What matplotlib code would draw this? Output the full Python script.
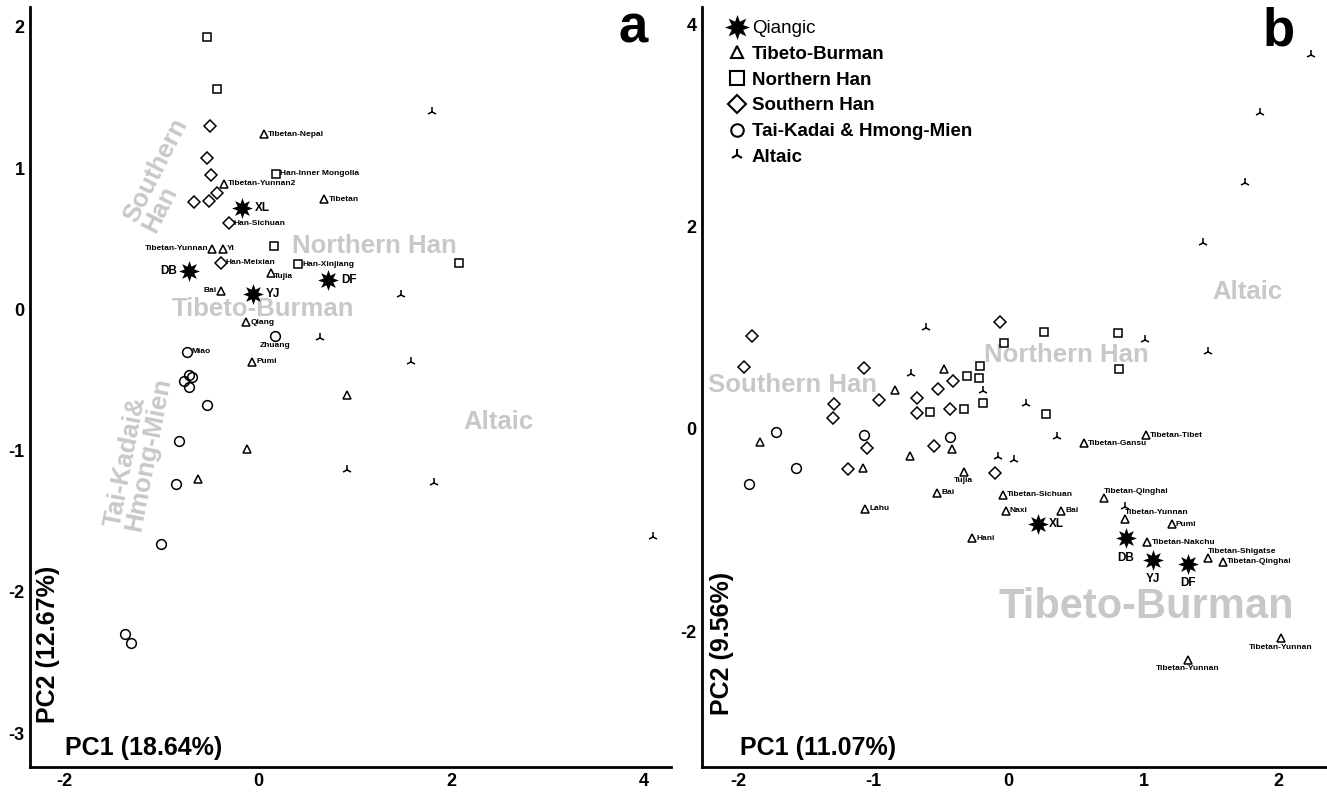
import matplotlib
matplotlib.use("Agg")
import matplotlib.pyplot as plt
from matplotlib.lines import Line2D

plt.rcParams['font.family'] = ['Liberation Sans', 'DejaVu Sans']
plt.rcParams['font.weight'] = 'bold'
plt.rcParams['axes.unicode_minus'] = False

# ---- panel a data ----
xa_nh = [-0.53, -0.42, 0.19, 0.17, 0.42, 2.08]
ya_nh = [1.93, 1.56, 0.96, 0.45, 0.32, 0.33]
na_nh = ["", "", "Han-Inner Mongolia", "", "Han-Xinjiang", ""]

xa_sh = [-0.50, -0.53, -0.49, -0.42, -0.51, -0.66, -0.30, -0.38]
ya_sh = [1.30, 1.07, 0.95, 0.82, 0.77, 0.76, 0.61, 0.33]
na_sh = ["", "", "", "", "", "", "Han-Sichuan", "Han-Meixian"]

xa_tb = [0.06, -0.35, 0.69, -0.47, -0.36, 0.14, -0.38, -0.12, -0.06, 0.92, -0.11, -0.62]
ya_tb = [1.24, 0.89, 0.78, 0.43, 0.43, 0.26, 0.13, -0.09, -0.37, -0.61, -0.99, -1.20]
na_tb = ["Tibetan-Nepal", "Tibetan-Yunnan2", "Tibetan", "Tibetan-Yunnan", "Yi", "Tujia",
         "Bai", "Qiang", "Pumi", "", "", ""]

xa_q = [-0.16, -0.71, -0.05, 0.73]
ya_q = [0.72, 0.27, 0.11, 0.21]
na_q = ["XL", "DB", "YJ", "DF"]

xa_tk = [0.18, -0.73, -0.715, -0.684, -0.767, -0.715, -0.53, -0.82, -0.85, -1.00, -1.38, -1.31]
ya_tk = [-0.19, -0.30, -0.467, -0.481, -0.510, -0.552, -0.68, -0.93, -1.24, -1.66, -2.30, -2.36]
na_tk = ["Zhuang", "Miao", "", "", "", "", "", "", "", "", "", ""]

xa_al = [1.80, 1.48, 0.64, 1.59, 0.92, 1.82, 4.09]
ya_al = [1.40, 0.10, -0.20, -0.37, -1.14, -1.23, -1.61]

# ---- panel b data ----
xb_sh = [-1.90, -1.96, -1.07, -1.29, -1.30, -0.96, -0.68, -0.68, -0.52, -0.41, -0.43, -0.06,
         -1.05, -1.19, -0.55, -0.10]
yb_sh = [0.92, 0.61, 0.60, 0.25, 0.11, 0.29, 0.31, 0.16, 0.40, 0.47, 0.20, 1.06,
         -0.19, -0.40, -0.17, -0.43]

xb_nh = [0.26, -0.03, -0.21, -0.31, -0.22, -0.19, -0.58, -0.33, 0.28, 0.81, 0.82]
yb_nh = [0.96, 0.85, 0.62, 0.52, 0.50, 0.26, 0.17, 0.20, 0.15, 0.95, 0.59]

xb_al = [-0.61, -0.72, -0.19, 0.13, 0.36, -0.08, 0.04, 2.24, 1.86, 1.75, 1.44, 1.01, 1.48, 0.86]
yb_al = [1.00, 0.54, 0.38, 0.25, -0.08, -0.28, -0.31, 3.70, 3.12, 2.43, 1.84, 0.88, 0.76, -0.77]

xb_tk = [-1.72, -1.57, -1.92, -1.07, -0.43]
yb_tk = [-0.03, -0.39, -0.54, -0.06, -0.08]

xb_tb = [-1.84, -0.84, -0.48, -0.42, -0.73, -1.08, -0.33, -0.53, -1.06, -0.27, -0.04, -0.02,
         0.39, 0.56, 1.02, 0.71, 0.86, 1.21, 1.03, 1.48, 1.59, 2.02, 1.33]
yb_tb = [-0.13, 0.39, 0.59, -0.20, -0.27, -0.39, -0.42, -0.63, -0.79, -1.08, -0.65, -0.81,
         -0.81, -0.14, -0.06, -0.68, -0.89, -0.94, -1.12, -1.27, -1.31, -2.07, -2.28]
nb_tb = ["", "", "", "", "", "", "Tujia", "Bai", "Lahu", "Hani", "Tibetan-Sichuan", "Naxi",
         "Bai", "Tibetan-Gansu", "Tibetan-Tibet", "Tibetan-Qinghai", "Tibetan-Yunnan", "Pumi",
         "Tibetan-Nakchu", "Tibetan-Shigatse", "Tibetan-Qinghai", "Tibetan-Yunnan", "Tibetan-Yunnan"]

xb_q = [0.22, 0.87, 1.07, 1.33]
yb_q = [-0.94, -1.08, -1.29, -1.33]
nb_q = ["XL", "DB", "YJ", "DF"]

group_names = ["Qiangic", "Tibeto-Burman", "Northern Han", "Southern Han",
               "Tai-Kadai & Hmong-Mien", "Altaic"]

# label placement codes (r=right, l=left, b=below, ar=above right)
pa_nh = ["r"] * 6
pa_sh = ["r"] * 8
pa_tb = ["r", "r", "r", "l", "r", "rb", "l", "r", "r", "r", "r", "r"]
pa_q = ["r", "l", "r", "r"]
pa_tk = ["b", "r"] + ["r"] * 10
pb_tb = ["r"] * 6 + ["b", "r", "r", "r", "r", "r", "r", "r", "r", "ar", "ar", "r", "r", "ar", "r", "b", "b"]
pb_q = ["r", "b", "b", "b"]

GREY = '#c8c8c8'

fig = plt.figure(figsize=(13.27, 7.93), dpi=100)
ax1 = fig.add_axes([30 / 1327, 26 / 793, 641 / 1327, 760 / 793])
ax2 = fig.add_axes([702 / 1327, 26 / 793, 625 / 1327, 760 / 793])

offs = {"r": ((3, 0), "left", "center"), "l": ((-3, 0), "right", "center"),
        "b": ((0, -4), "center", "top"), "ar": ((0, 2), "left", "bottom"),
        "rb": ((2, -3), "left", "center")}


def draw(ax, x, y, marker, ms, names=None, place=None, fs=6, gap=1.0, filled=False):
    if filled:
        ax.plot(x, y, ls='none', marker=marker, ms=ms, color='black', mew=0, zorder=3)
    else:
        ax.plot(x, y, ls='none', marker=marker, ms=ms, mfc='none', mec='black',
                mew=1.1, zorder=3)
    if names is None:
        return
    for xi, yi, n, p in zip(x, y, names, place):
        if not n:
            continue
        (dx, dy), ha, va = offs[p]
        ax.annotate(n, (xi, yi), xytext=(dx * gap, dy * gap), textcoords='offset points',
                    ha=ha, va=va, fontsize=fs, fontweight='bold', zorder=4)


for ax in (ax1, ax2):
    for s in ('top', 'right'):
        ax.spines[s].set_visible(False)
    for s in ('left', 'bottom'):
        ax.spines[s].set_linewidth(2)
    ax.tick_params(length=0, pad=4, labelsize=13)
    ax.set_facecolor('white')

# panel a
draw(ax1, xa_nh, ya_nh, 's', 6, na_nh, pa_nh)
draw(ax1, xa_sh, ya_sh, 'D', 6, na_sh, pa_sh)
draw(ax1, xa_tb, ya_tb, '^', 5.5, na_tb, pa_tb)
draw(ax1, xa_tk, ya_tk, 'o', 7, na_tk, pa_tk)
draw(ax1, xa_al, ya_al, '2', 7)
draw(ax1, xa_q, ya_q, (8, 1, 0), 15, na_q, pa_q, fs=8.5, gap=3.0, filled=True)

ax1.set_xlim(-2.36, 4.28)
ax1.set_ylim(-3.24, 2.14)
ax1.set_xticks([-2, 0, 2, 4])
ax1.set_yticks([-3, -2, -1, 0, 1, 2])

ax1.text(1.21, 0.45, "Northern Han", color=GREY, fontsize=18.5, ha='center', va='center', zorder=1)
ax1.text(0.05, 0.0, "Tibeto-Burman", color=GREY, fontsize=18.5, ha='center', va='center', zorder=1)
ax1.text(2.49, -0.80, "Altaic", color=GREY, fontsize=18.5, ha='center', va='center', zorder=1)
ax1.text(-0.96, 0.95, "Southern\nHan", color=GREY, fontsize=18.5, ha='center', va='center',
         rotation=63, linespacing=0.85, multialignment='left', zorder=1)
ax1.text(-1.24, -1.01, "Tai-Kadai&\nHmong-Mien", color=GREY, fontsize=18.5, ha='center',
         va='center', rotation=79, linespacing=0.85, multialignment='left', zorder=1)

ax1.text(0.055, 0.025, "PC1 (18.64%)", transform=ax1.transAxes, fontsize=18, ha='left', va='center')
ax1.text(0.028, 0.162, "PC2 (12.67%)", transform=ax1.transAxes, fontsize=18, ha='center',
         va='center', rotation=90)
ax1.text(0.941, 0.972, "a", transform=ax1.transAxes, fontsize=38, ha='center', va='center')

# panel b
draw(ax2, xb_sh, yb_sh, 'D', 6)
draw(ax2, xb_nh, yb_nh, 's', 6)
draw(ax2, xb_al, yb_al, '2', 7)
draw(ax2, xb_tk, yb_tk, 'o', 7)
draw(ax2, xb_tb, yb_tb, '^', 5.5, nb_tb, pb_tb)
draw(ax2, xb_q, yb_q, (8, 1, 0), 15, nb_q, pb_q, fs=8.5, gap=2.5, filled=True)

ax2.set_xlim(-2.27, 2.36)
ax2.set_ylim(-3.34, 4.17)
ax2.set_xticks([-2, -1, 0, 1, 2])
ax2.set_yticks([-2, 0, 2, 4])

ax2.text(-1.60, 0.43, "Southern Han", color=GREY, fontsize=18.5, ha='center', va='center', zorder=1)
ax2.text(0.43, 0.73, "Northern Han", color=GREY, fontsize=18.5, ha='center', va='center', zorder=1)
ax2.text(1.77, 1.35, "Altaic", color=GREY, fontsize=18.5, ha='center', va='center', zorder=1)
ax2.text(1.02, -1.76, "Tibeto-Burman", color=GREY, fontsize=30, ha='center', va='center', zorder=1)

ax2.text(0.061, 0.025, "PC1 (11.07%)", transform=ax2.transAxes, fontsize=18, ha='left', va='center')
ax2.text(0.032, 0.162, "PC2 (9.56%)", transform=ax2.transAxes, fontsize=18, ha='center',
         va='center', rotation=90)
ax2.text(0.923, 0.968, "b", transform=ax2.transAxes, fontsize=38, ha='center', va='center')

handles = [
    Line2D([], [], ls='none', marker=(8, 1, 0), ms=18, color='black', mew=0),
    Line2D([], [], ls='none', marker='^', ms=9, mfc='none', mec='black', mew=1.5),
    Line2D([], [], ls='none', marker='s', ms=10, mfc='none', mec='black', mew=1.5),
    Line2D([], [], ls='none', marker='D', ms=9, mfc='none', mec='black', mew=1.5),
    Line2D([], [], ls='none', marker='o', ms=9, mfc='none', mec='black', mew=1.5),
    Line2D([], [], ls='none', marker='2', ms=9, color='black', mew=1.5),
]
leg = ax2.legend(handles, group_names, loc='upper left', bbox_to_anchor=(0.02, 1.0),
                 frameon=False, handlelength=1.0, handletextpad=0.3, labelspacing=0.46,
                 borderpad=0.2, prop={'weight': 'bold', 'size': 13.5})
leg.get_texts()[0].set_fontweight('normal')

fig.savefig("out.png", dpi=100)
